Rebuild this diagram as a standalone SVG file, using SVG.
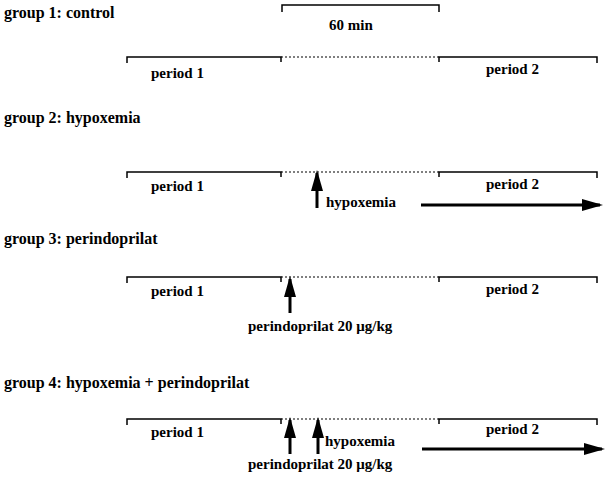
<svg xmlns="http://www.w3.org/2000/svg" width="608" height="481" viewBox="0 0 608 481">
<style>
text{font-family:"Liberation Serif","DejaVu Serif",serif;font-weight:bold;font-size:15px;fill:#000}
.t{font-size:16px}
.s{stroke:#000;stroke-width:1.5;fill:none}
.d{stroke:#000;stroke-width:1.2;stroke-dasharray:2,2;fill:none}
.a{stroke:#000;stroke-width:3;fill:none}
</style>
<defs>
<marker id="ah" markerWidth="7" markerHeight="4" refX="6" refY="2" orient="auto" markerUnits="strokeWidth"><path d="M0,0 L7,2 L0,4 z" fill="#000"/></marker>
<g id="tl">
<path class="s" d="M127,63 V57 H281 V62 M439,62 V57 H597 V63"/>
<path class="d" d="M281,57 H439"/>
</g>
</defs>
<g id="g1">
<text class="t" x="4" y="18">group 1: control</text>
<path class="s" d="M282,12 V5 H439 V12"/>
<text x="329" y="30">60 min</text>
<use href="#tl"/>
<text x="151" y="78">period 1</text>
<text x="486" y="74">period 2</text>
</g>
<g id="g2">
<text class="t" x="4" y="123">group 2: hypoxemia</text>
<use href="#tl" y="115"/>
<text x="151" y="191">period 1</text>
<text x="486" y="189">period 2</text>
<text x="326" y="207">hypoxemia</text>
</g>
<g id="g3">
<text class="t" x="4" y="244">group 3: perindoprilat</text>
<use href="#tl" y="220"/>
<text x="151" y="296">period 1</text>
<text x="486" y="294">period 2</text>
<text x="248" y="331">perindoprilat 20 μg/kg</text>
</g>
<g id="g4">
<text class="t" x="4" y="388">group 4: hypoxemia + perindoprilat</text>
<use href="#tl" y="362"/>
<text x="151" y="437">period 1</text>
<text x="486" y="434">period 2</text>
<text x="325" y="446">hypoxemia</text>
<text x="248" y="469">perindoprilat 20 μg/kg</text>
</g>
<g id="connectors">
<path class="a" d="M317,208 V173" marker-end="url(#ah)"/>
<path class="a" d="M421,205 H600" marker-end="url(#ah)"/>
<path class="a" d="M290,313 V279" marker-end="url(#ah)"/>
<path class="a" d="M290,454 V420" marker-end="url(#ah)"/>
<path class="a" d="M318,454 V420" marker-end="url(#ah)"/>
<path class="a" d="M422,449 H602" marker-end="url(#ah)"/>
</g>
</svg>
